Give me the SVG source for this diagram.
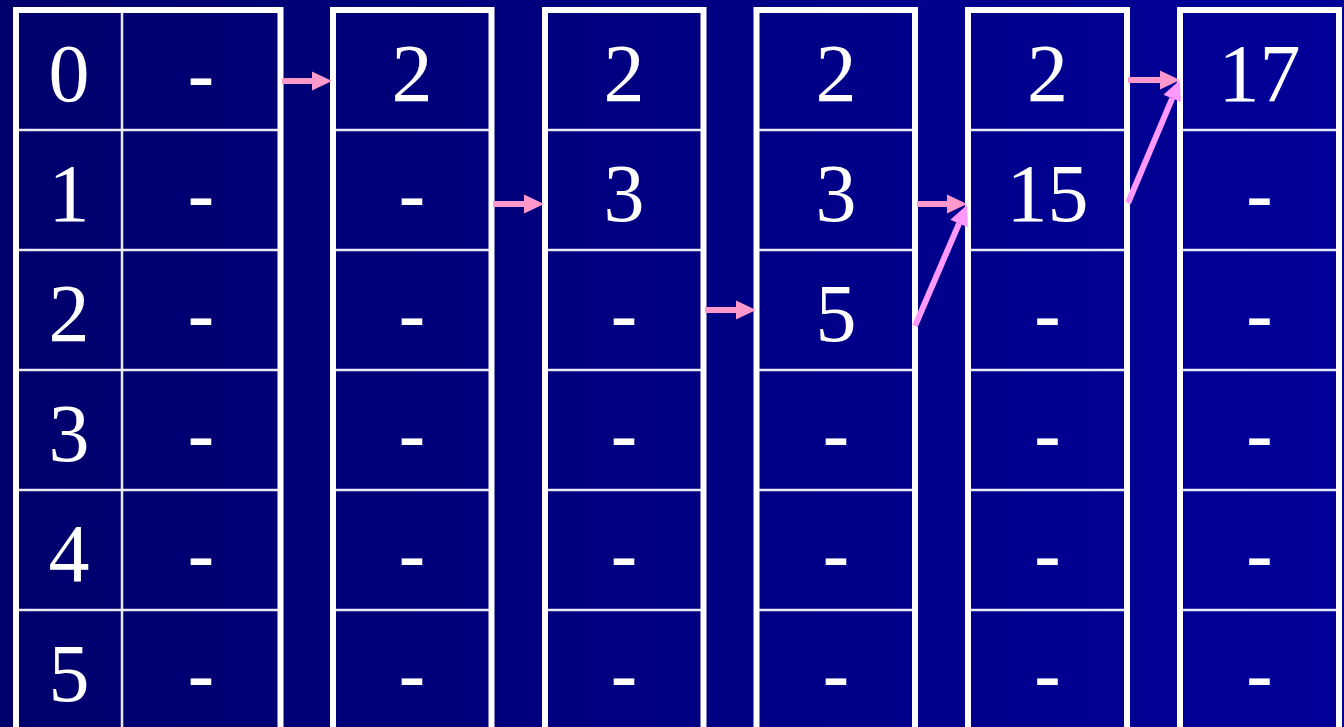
<svg xmlns="http://www.w3.org/2000/svg" width="1344" height="727" viewBox="0 0 1344 727">
  <defs>
    <linearGradient id="bg" x1="0" y1="0" x2="1" y2="0">
      <stop offset="0" stop-color="#00006C"/>
      <stop offset="1" stop-color="#000099"/>
    </linearGradient>
    <marker id="hp" markerUnits="userSpaceOnUse" markerWidth="21" markerHeight="20" refX="0" refY="9.5" orient="auto" overflow="visible">
      <path d="M0,0 L20,9.5 L0,19 Z" fill="#FF99CC"/>
    </marker>
    <marker id="hv" markerUnits="userSpaceOnUse" markerWidth="21" markerHeight="20" refX="0" refY="9.5" orient="auto" overflow="visible">
      <path d="M0,0 L20,9.5 L0,19 Z" fill="#FF99FF"/>
    </marker>
    <style>
      .outer { fill: none; stroke: #FFFFFF; stroke-width: 6; }
      .inner { stroke: #E8E8F8; stroke-width: 2.5; }
      .num { font-family: "Liberation Serif", "Times New Roman", serif; font-size: 82px; fill: #FFFFFF; text-anchor: middle; }
      .dash { font-family: "Liberation Sans", Arial, sans-serif; font-size: 84px; fill: #FFFFFF; text-anchor: middle; }
      .ap { stroke: #FF99CC; stroke-width: 6; fill: none; marker-end: url(#hp); }
      .av { stroke: #FF99FF; stroke-width: 6; fill: none; marker-end: url(#hv); }
    </style>
  </defs>
  <rect x="0" y="0" width="1344" height="727" fill="url(#bg)"/>

  <g id="col1">
    <line class="inner" x1="122" y1="10" x2="122" y2="740"/>
    <line class="inner" x1="16" y1="130" x2="280.5" y2="130"/>
    <line class="inner" x1="16" y1="250" x2="280.5" y2="250"/>
    <line class="inner" x1="16" y1="370" x2="280.5" y2="370"/>
    <line class="inner" x1="16" y1="490" x2="280.5" y2="490"/>
    <line class="inner" x1="16" y1="610" x2="280.5" y2="610"/>
    <rect class="outer" x="16" y="10" width="264.5" height="740"/>
    <text class="num" x="69" y="101">0</text>
    <text class="num" x="69" y="221">1</text>
    <text class="num" x="69" y="341">2</text>
    <text class="num" x="69" y="461">3</text>
    <text class="num" x="69" y="581">4</text>
    <text class="num" x="69" y="701">5</text>
    <text class="dash" x="201" y="104">-</text>
    <text class="dash" x="201" y="224">-</text>
    <text class="dash" x="201" y="344">-</text>
    <text class="dash" x="201" y="464">-</text>
    <text class="dash" x="201" y="584">-</text>
    <text class="dash" x="201" y="704">-</text>
  </g>

  <g id="col2">
    <line class="inner" x1="333" y1="130" x2="491.5" y2="130"/>
    <line class="inner" x1="333" y1="250" x2="491.5" y2="250"/>
    <line class="inner" x1="333" y1="370" x2="491.5" y2="370"/>
    <line class="inner" x1="333" y1="490" x2="491.5" y2="490"/>
    <line class="inner" x1="333" y1="610" x2="491.5" y2="610"/>
    <rect class="outer" x="333" y="10" width="158.5" height="740"/>
    <text class="num" x="412" y="101">2</text>
    <text class="dash" x="412" y="224">-</text>
    <text class="dash" x="412" y="344">-</text>
    <text class="dash" x="412" y="464">-</text>
    <text class="dash" x="412" y="584">-</text>
    <text class="dash" x="412" y="704">-</text>
  </g>

  <g id="col3">
    <line class="inner" x1="545" y1="130" x2="703.5" y2="130"/>
    <line class="inner" x1="545" y1="250" x2="703.5" y2="250"/>
    <line class="inner" x1="545" y1="370" x2="703.5" y2="370"/>
    <line class="inner" x1="545" y1="490" x2="703.5" y2="490"/>
    <line class="inner" x1="545" y1="610" x2="703.5" y2="610"/>
    <rect class="outer" x="545" y="10" width="158.5" height="740"/>
    <text class="num" x="624" y="101">2</text>
    <text class="num" x="624" y="221">3</text>
    <text class="dash" x="624" y="344">-</text>
    <text class="dash" x="624" y="464">-</text>
    <text class="dash" x="624" y="584">-</text>
    <text class="dash" x="624" y="704">-</text>
  </g>

  <g id="col4">
    <line class="inner" x1="756.5" y1="130" x2="915" y2="130"/>
    <line class="inner" x1="756.5" y1="250" x2="915" y2="250"/>
    <line class="inner" x1="756.5" y1="370" x2="915" y2="370"/>
    <line class="inner" x1="756.5" y1="490" x2="915" y2="490"/>
    <line class="inner" x1="756.5" y1="610" x2="915" y2="610"/>
    <rect class="outer" x="756.5" y="10" width="158.5" height="740"/>
    <text class="num" x="836" y="101">2</text>
    <text class="num" x="836" y="221">3</text>
    <text class="num" x="836" y="341">5</text>
    <text class="dash" x="836" y="464">-</text>
    <text class="dash" x="836" y="584">-</text>
    <text class="dash" x="836" y="704">-</text>
  </g>

  <g id="col5">
    <line class="inner" x1="968" y1="130" x2="1127" y2="130"/>
    <line class="inner" x1="968" y1="250" x2="1127" y2="250"/>
    <line class="inner" x1="968" y1="370" x2="1127" y2="370"/>
    <line class="inner" x1="968" y1="490" x2="1127" y2="490"/>
    <line class="inner" x1="968" y1="610" x2="1127" y2="610"/>
    <rect class="outer" x="968" y="10" width="159" height="740"/>
    <text class="num" x="1047.5" y="101">2</text>
    <text class="num" x="1047.5" y="221">15</text>
    <text class="dash" x="1047.5" y="344">-</text>
    <text class="dash" x="1047.5" y="464">-</text>
    <text class="dash" x="1047.5" y="584">-</text>
    <text class="dash" x="1047.5" y="704">-</text>
  </g>

  <g id="col6">
    <line class="inner" x1="1180" y1="130" x2="1339" y2="130"/>
    <line class="inner" x1="1180" y1="250" x2="1339" y2="250"/>
    <line class="inner" x1="1180" y1="370" x2="1339" y2="370"/>
    <line class="inner" x1="1180" y1="490" x2="1339" y2="490"/>
    <line class="inner" x1="1180" y1="610" x2="1339" y2="610"/>
    <rect class="outer" x="1180" y="10" width="159" height="740"/>
    <text class="num" x="1259.5" y="101">17</text>
    <text class="dash" x="1259.5" y="224">-</text>
    <text class="dash" x="1259.5" y="344">-</text>
    <text class="dash" x="1259.5" y="464">-</text>
    <text class="dash" x="1259.5" y="584">-</text>
    <text class="dash" x="1259.5" y="704">-</text>
  </g>

  <g id="connectors">
    <line class="ap" x1="282" y1="81" x2="312" y2="81"/>
    <line class="ap" x1="493" y1="204" x2="524" y2="204"/>
    <line class="ap" x1="705" y1="310" x2="736" y2="310"/>
    <line class="ap" x1="917" y1="204" x2="947" y2="204"/>
    <line class="ap" x1="1128" y1="80" x2="1160" y2="80"/>
    <line class="av" x1="915" y1="326" x2="959.1" y2="223.4"/>
    <line class="av" x1="1128" y1="203" x2="1172.2" y2="98.4"/>
  </g>
</svg>
